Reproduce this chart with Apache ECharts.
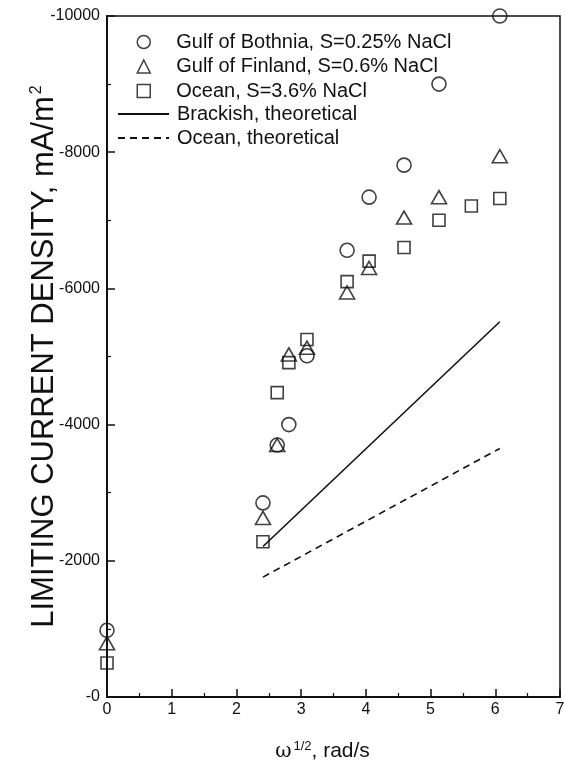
<!DOCTYPE html>
<html>
<head>
<meta charset="utf-8">
<script src="https://cdn.jsdelivr.net/npm/echarts@6/dist/echarts.min.js"></script>
<style>
html,body{margin:0;padding:0;background:#fff;}
#main{width:565px;height:765px;}
</style>
</head>
<body>
<div id="main"></div>
<script>
// measured data, omega^1/2 (rad/s) vs limiting current density (mA/m2)
var bothniaX = [0, 2.41, 2.63, 2.81, 3.09, 3.71, 4.05, 4.59, 5.13, 6.07];
var bothniaY = [-980, -2850, -3700, -4000, -5010, -6560, -7340, -7810, -9000, -10000];
var finlandX = [0, 2.41, 2.63, 2.81, 3.09, 3.71, 4.05, 4.59, 5.13, 6.07];
var finlandY = [-790, -2630, -3700, -5030, -5130, -5940, -6300, -7040, -7340, -7940];
var oceanX = [0, 2.41, 2.63, 2.81, 3.09, 3.71, 4.05, 4.59, 5.13, 5.63, 6.07];
var oceanY = [-500, -2280, -4470, -4910, -5250, -6100, -6400, -6600, -7000, -7210, -7320];
// theoretical lines (end points)
var brackishThX = [2.41, 6.07];
var brackishThY = [-2210, -5510];
var oceanThX = [2.41, 6.07];
var oceanThY = [-1760, -3650];

var names = ['Gulf of Bothnia, S=0.25% NaCl', 'Gulf of Finland, S=0.6% NaCl', 'Ocean, S=3.6% NaCl', 'Brackish, theoretical', 'Ocean, theoretical'];

function pairs(xs, ys) {
	var out = [];
	for (var i = 0; i < xs.length; i++) out.push([xs[i], ys[i]]);
	return out;
}

var font = '"Liberation Sans", Arial, sans-serif';
var ink = '#111';
var markerStyle = {color: 'transparent', borderColor: ink, borderWidth: 1.6};
var hideDot = {color: 'rgba(0,0,0,0)', borderColor: 'rgba(0,0,0,0)', borderWidth: 0};

var myChart = echarts.init(document.getElementById('main'));
var option = {
	backgroundColor: '#fff',
	animation: false,
	textStyle: {fontFamily: font, color: ink},
	grid: {
		left: 107, right: 5, top: 16, bottom: 68,
		outerBoundsMode: 'none', containLabel: false,
		show: true, borderColor: ink, borderWidth: 1.5, backgroundColor: 'transparent'
	},
	legend: [
		{
			left: 136.5, top: 32, orient: 'vertical', padding: 0,
			itemWidth: 13, itemHeight: 13, itemGap: 4.5,
			textStyle: {fontFamily: font, fontSize: 20, color: ink, lineHeight: 19, padding: [0, 0, 0, 21]},
			itemStyle: {color: 'transparent', borderColor: ink, borderWidth: 1.5},
			data: [
				{name: names[0], icon: 'circle'},
				{name: names[1], icon: 'triangle'},
				{name: names[2], icon: 'path://M0,0 L11,0 L11,11 L0,11 Z'}
			]
		},
		{
			left: 117, top: 104, orient: 'vertical', padding: 0,
			itemWidth: 51, itemHeight: 13, itemGap: 4,
			textStyle: {fontFamily: font, fontSize: 20, color: ink, lineHeight: 19, padding: [0, 0, 0, 3]},
			data: [
				{name: names[3], itemStyle: hideDot},
				{name: names[4], itemStyle: hideDot}
			]
		}
	],
	xAxis: {
		type: 'value', min: 0, max: 7, interval: 1,
		name: '{w|ω}{sup|1/2}{t|, rad/s}', nameLocation: 'middle', nameGap: 43, nameMoveOverlap: false,
		nameTextStyle: {
			padding: [0, 22, 0, 0],
			rich: {
				w: {fontFamily: 'DejaVu Serif', fontSize: 20, color: ink},
				sup: {fontFamily: font, fontSize: 13, color: ink, verticalAlign: 'top', padding: [0, 0, 10, 2]},
				t: {fontFamily: font, fontSize: 21, color: ink}
			}
		},
		axisLine: {lineStyle: {color: ink, width: 2}},
		axisTick: {inside: true, length: 8, lineStyle: {color: ink, width: 1.5}},
		minorTick: {show: true, splitNumber: 2, length: 4, lineStyle: {color: ink, width: 1.2}},
		axisLabel: {fontSize: 16, color: ink, margin: 5, fontFamily: font},
		splitLine: {show: false}
	},
	yAxis: {
		type: 'value', min: -10000, max: 0, interval: 2000, inverse: true,
		name: '{t|LIMITING CURRENT DENSITY, mA/m}{sup|2}', nameLocation: 'middle', nameRotate: 90,
		nameGap: 47, nameMoveOverlap: false,
		nameTextStyle: {
			rich: {
				t: {fontFamily: font, fontSize: 31, color: ink},
				sup: {fontFamily: font, fontSize: 16, color: ink, verticalAlign: 'top', padding: [0, 0, 14, 2]}
			}
		},
		axisLine: {lineStyle: {color: ink, width: 2}},
		axisTick: {inside: true, length: 8, lineStyle: {color: ink, width: 1.5}},
		minorTick: {show: true, splitNumber: 2, length: 4, lineStyle: {color: ink, width: 1.2}},
		axisLabel: {
			fontSize: 16, color: ink, margin: 7, fontFamily: font,
			formatter: function (v) { return v === 0 ? '-0' : String(v); }
		},
		splitLine: {show: false}
	},
	series: [
		{
			name: names[0], type: 'scatter', symbol: 'circle', symbolSize: 14,
			itemStyle: markerStyle, data: pairs(bothniaX, bothniaY), z: 3
		},
		{
			name: names[1], type: 'scatter', symbol: 'triangle', symbolSize: [15, 13],
			itemStyle: markerStyle, data: pairs(finlandX, finlandY), z: 3
		},
		{
			name: names[2], type: 'scatter', symbol: 'rect', symbolSize: 12,
			itemStyle: markerStyle, data: pairs(oceanX, oceanY), z: 3
		},
		{
			name: names[3], type: 'line', symbol: 'none',
			lineStyle: {color: ink, width: 1.6, type: 'solid'},
			itemStyle: {color: ink},
			data: pairs(brackishThX, brackishThY)
		},
		{
			name: names[4], type: 'line', symbol: 'none',
			lineStyle: {color: ink, width: 1.6, type: [7, 5]},
			itemStyle: {color: ink},
			data: pairs(oceanThX, oceanThY)
		}
	]
};
myChart.setOption(option);
</script>
</body>
</html>
